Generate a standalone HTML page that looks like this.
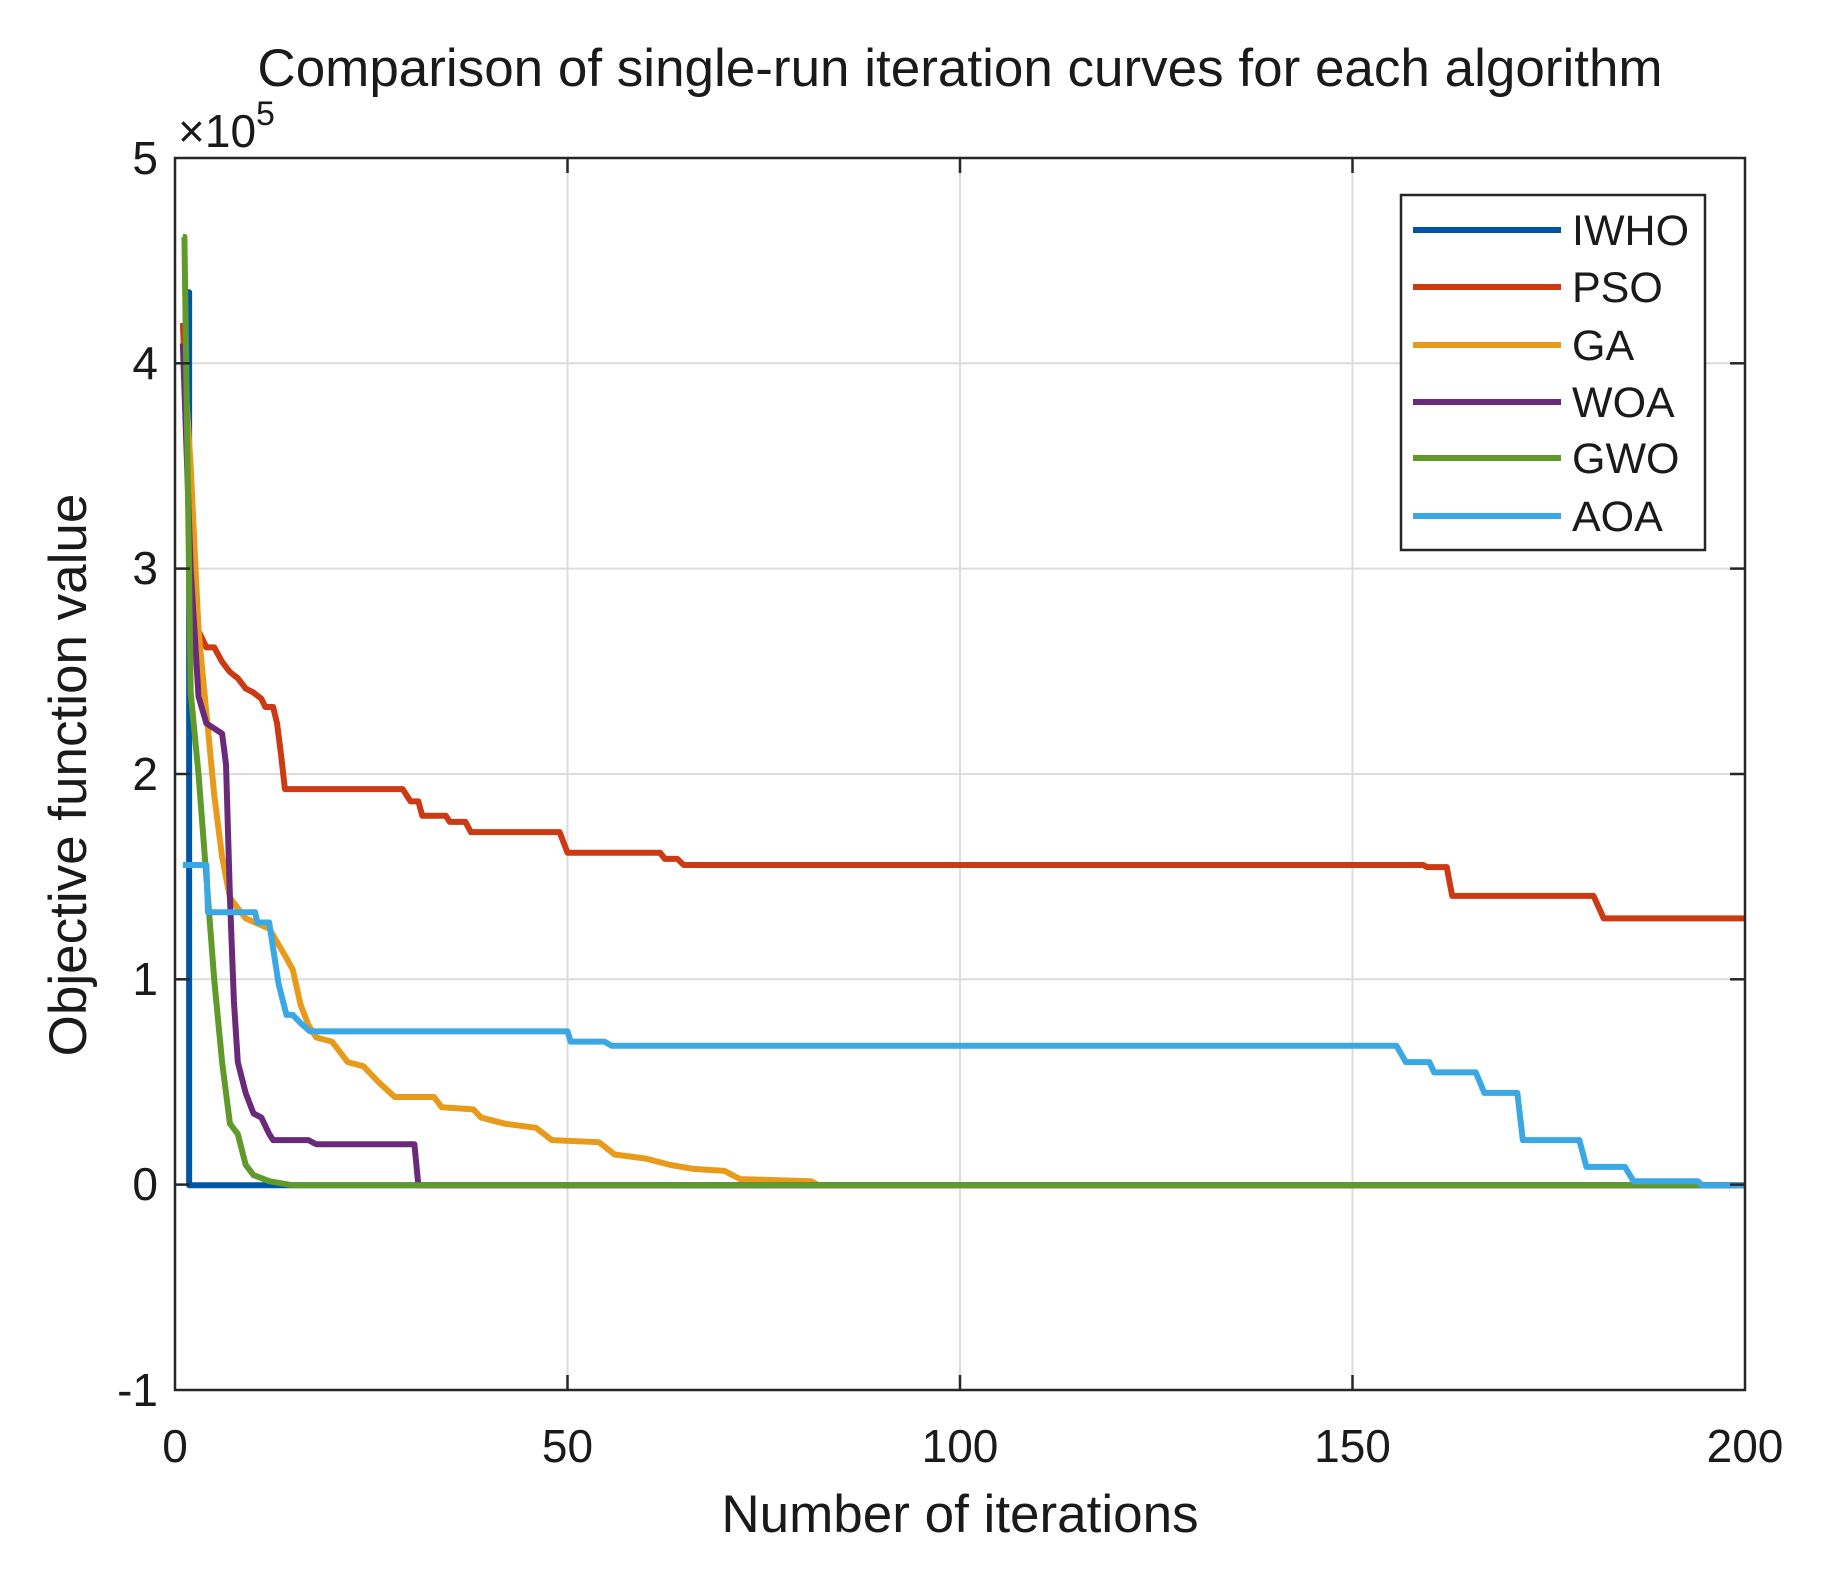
<!DOCTYPE html>
<html><head><meta charset="utf-8"><style>
body{margin:0;background:#fff;}
svg text{font-family:"Liberation Sans",Arial,sans-serif;fill:#1a1a1a;}
</style></head><body>
<svg width="1836" height="1565" xmlns="http://www.w3.org/2000/svg">
<rect width="1836" height="1565" fill="#fff"/>
<g stroke="#dcdcdc" stroke-width="2">
<line x1="567.5" y1="158" x2="567.5" y2="1390"/>
<line x1="960" y1="158" x2="960" y2="1390"/>
<line x1="1352.5" y1="158" x2="1352.5" y2="1390"/>
<line x1="175" y1="363.3" x2="1745" y2="363.3"/>
<line x1="175" y1="568.6" x2="1745" y2="568.6"/>
<line x1="175" y1="774" x2="1745" y2="774"/>
<line x1="175" y1="979.3" x2="1745" y2="979.3"/>
<line x1="175" y1="1184.6" x2="1745" y2="1184.6"/>
</g>
<g fill="none" stroke-width="6" stroke-linejoin="round" transform="translate(175,1185.3) scale(7.85,-205.3)">
<polyline vector-effect="non-scaling-stroke" stroke="#0056a6" points="1,4.35 1.8,4.35 1.8,0 200,0"/>
<polyline vector-effect="non-scaling-stroke" stroke="#cc3a14" points="1,4.2 2,3.3 3,2.7 4,2.62 5,2.62 6,2.55 7,2.5 8,2.47 9,2.42 10,2.40 11,2.37 11.5,2.33 12.5,2.33 13,2.25 13.5,2.1 14,1.93 29,1.93 30,1.87 31,1.87 31.5,1.80 34.5,1.80 35,1.77 37,1.77 37.7,1.72 49,1.72 50,1.62 61.8,1.62 62.4,1.59 64,1.59 64.8,1.56 159,1.56 159.5,1.55 162,1.55 162.7,1.41 180.7,1.41 182,1.30 200,1.30"/>
<polyline vector-effect="non-scaling-stroke" stroke="#e89a1a" points="1,4.1 2,3.5 3,2.7 4,2.3 5,1.9 6,1.6 7,1.4 8,1.35 9,1.3 12,1.25 14,1.12 15,1.05 16,0.88 17,0.78 18,0.72 20,0.70 21,0.65 22,0.60 24,0.58 26,0.50 28,0.43 33,0.43 34,0.38 38,0.37 39,0.33 42,0.30 46,0.28 48,0.22 54,0.21 56,0.15 60,0.13 63,0.10 66,0.08 70,0.07 72,0.03 81,0.02 82,0 200,0"/>
<polyline vector-effect="non-scaling-stroke" stroke="#6a2a7a" points="1,4.1 2,3.0 3,2.38 4,2.25 6,2.2 6.5,2.05 7,1.4 7.5,0.9 8,0.6 9,0.45 10,0.35 11,0.33 12,0.25 12.5,0.22 17,0.22 18,0.2 30.5,0.2 31,0 200,0"/>
<polyline vector-effect="non-scaling-stroke" stroke="#5f9a2a" points="1,4.62 1.2,4.62 2,2.4 3,2.0 4,1.5 5,1.0 6,0.6 7,0.3 8,0.25 9,0.1 10,0.05 12,0.02 15,0 200,0"/>
<polyline vector-effect="non-scaling-stroke" stroke="#3aa8e4" points="1,1.56 4,1.56 4.2,1.33 10.2,1.33 10.5,1.28 12,1.28 13.2,0.98 14.2,0.83 15,0.83 16,0.79 17.2,0.75 50,0.75 50.4,0.70 54.7,0.70 55.6,0.68 155.6,0.68 156.8,0.60 159.8,0.60 160.4,0.55 165.7,0.55 166.8,0.45 171,0.45 171.7,0.22 178.9,0.22 179.8,0.09 184.7,0.09 185.8,0.02 194,0.02 194.5,0 200,0"/>
</g>
<rect x="175" y="158" width="1570" height="1232" fill="none" stroke="#262626" stroke-width="2.5"/>
<g stroke="#262626" stroke-width="2.5">
<line x1="567.5" y1="158" x2="567.5" y2="173"/><line x1="567.5" y1="1390" x2="567.5" y2="1375"/>
<line x1="960" y1="158" x2="960" y2="173"/><line x1="960" y1="1390" x2="960" y2="1375"/>
<line x1="1352.5" y1="158" x2="1352.5" y2="173"/><line x1="1352.5" y1="1390" x2="1352.5" y2="1375"/>
<line x1="175" y1="363.3" x2="190" y2="363.3"/><line x1="1745" y1="363.3" x2="1730" y2="363.3"/>
<line x1="175" y1="568.6" x2="190" y2="568.6"/><line x1="1745" y1="568.6" x2="1730" y2="568.6"/>
<line x1="175" y1="774" x2="190" y2="774"/><line x1="1745" y1="774" x2="1730" y2="774"/>
<line x1="175" y1="979.3" x2="190" y2="979.3"/><line x1="1745" y1="979.3" x2="1730" y2="979.3"/>
<line x1="175" y1="1184.6" x2="190" y2="1184.6"/><line x1="1745" y1="1184.6" x2="1730" y2="1184.6"/>
</g>
<g font-size="46" text-anchor="end">
<text x="158" y="174">5</text><text x="158" y="379">4</text><text x="158" y="584">3</text>
<text x="158" y="790">2</text><text x="158" y="995">1</text><text x="158" y="1200">0</text><text x="158" y="1406">-1</text>
</g>
<g font-size="46" text-anchor="middle">
<text x="175" y="1462">0</text><text x="567.5" y="1462">50</text><text x="960" y="1462">100</text>
<text x="1352.5" y="1462">150</text><text x="1745" y="1462">200</text>
</g>
<text x="960" y="1532" font-size="53" text-anchor="middle">Number of iterations</text>
<text transform="translate(86,775) rotate(-90)" font-size="53" text-anchor="middle">Objective function value</text>
<text x="960" y="86" font-size="53" text-anchor="middle">Comparison of single-run iteration curves for each algorithm</text>
<text x="178" y="147" font-size="46">×10<tspan font-size="34" dy="-22">5</tspan></text>
<rect x="1401" y="195" width="304" height="355" fill="#fff" stroke="#262626" stroke-width="2.5"/>
<g stroke-width="6">
<line x1="1413" y1="230" x2="1561" y2="230" stroke="#0056a6"/>
<line x1="1413" y1="287" x2="1561" y2="287" stroke="#cc3a14"/>
<line x1="1413" y1="345" x2="1561" y2="345" stroke="#e89a1a"/>
<line x1="1413" y1="402" x2="1561" y2="402" stroke="#6a2a7a"/>
<line x1="1413" y1="458" x2="1561" y2="458" stroke="#5f9a2a"/>
<line x1="1413" y1="516" x2="1561" y2="516" stroke="#3aa8e4"/>
</g>
<g font-size="43">
<text x="1572" y="245">IWHO</text><text x="1572" y="302">PSO</text><text x="1572" y="360">GA</text>
<text x="1572" y="417">WOA</text><text x="1572" y="473">GWO</text><text x="1572" y="531">AOA</text>
</g>
</svg>
</body></html>
